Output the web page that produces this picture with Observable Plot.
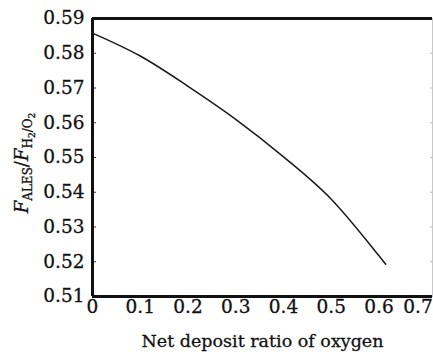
<!DOCTYPE html>
<html>
<head>
<meta charset="utf-8">
<script src="https://cdn.jsdelivr.net/npm/d3@7"></script>
<script src="https://cdn.jsdelivr.net/npm/@observablehq/plot@0.6"></script>
<style>
  body { margin: 0; background: #fff; }
  #chart svg { display: block; }
  #chart svg text { stroke: #111; stroke-width: 0.3px; }
</style>
</head>
<body>
<div id="chart"></div>
<script>
// Net deposit ratio of oxygen vs. force ratio F_ALES / F_H2/O2
const depositRatio = [0, 0.1, 0.2, 0.3, 0.4, 0.5, 0.6, 0.614];
const forceRatio = [0.5858, 0.5792, 0.5705, 0.5610, 0.5502, 0.5380, 0.5217, 0.5193];
const xTicks = [0, 0.1, 0.2, 0.3, 0.4, 0.5, 0.6];
const xLastTick = [0.7];
const yTicks = [0.51, 0.52, 0.53, 0.54, 0.55, 0.56, 0.57, 0.58, 0.59];
const xLabel = "Net deposit ratio of oxygen";

const rows = depositRatio.map((r, i) => ({ r, f: forceRatio[i] }));
const xMax = 0.712;

const serif = "'DejaVu Serif', 'Liberation Serif', serif";
const fmtX = d => d === 0 ? "0" : d.toFixed(1);

const plot = Plot.plot({
  width: 433,
  height: 356,
  marginLeft: 92,
  marginRight: 1,
  marginTop: 18,
  marginBottom: 60,
  style: { fontFamily: serif, fontSize: "18px", color: "#111", background: "#fff" },
  x: { domain: [0, xMax], label: null },
  y: { domain: [0.51, 0.59], label: null },
  marks: [
    // inward tick marks on the left and right edges
    Plot.axisY(yTicks, { anchor: "left", tickSize: 4, dx: 4, text: null, stroke: "#333" }),
    Plot.axisY(yTicks, { anchor: "right", tickSize: 3, dx: -3, text: null, stroke: "#bbb" }),
    // tick labels
    Plot.axisY(yTicks, { anchor: "left", tickSize: 0, tickPadding: 8, tickFormat: d => d.toFixed(2), fontFamily: serif, fontSize: 18.5 }),
    Plot.axisX(xTicks, { anchor: "bottom", tickSize: 0, tickPadding: 3, tickFormat: fmtX, fontFamily: serif, fontSize: 18.5 }),
    Plot.axisX(xLastTick, { anchor: "bottom", tickSize: 0, tickPadding: 3, tickFormat: fmtX, textAnchor: "end", dx: 6, fontFamily: serif, fontSize: 18.5 }),
    // frame
    Plot.ruleX([xMax], { stroke: "#c8c8c8", strokeWidth: 1 }),
    Plot.ruleY([0.59], { stroke: "#111", strokeWidth: 3 }),
    Plot.ruleY([0.51], { stroke: "#111", strokeWidth: 3 }),
    Plot.ruleX([0], { stroke: "#111", strokeWidth: 3 }),
    // curve
    Plot.line(rows, { x: "r", y: "f", curve: "monotone-x", stroke: "#1a1a1a", strokeWidth: 1.5 }),
    // x axis title
    Plot.text([xLabel], { frameAnchor: "bottom", dy: 50, fontFamily: serif, fontSize: 17.5, fill: "#111" })
  ]
});

document.getElementById("chart").appendChild(plot);

// y axis title with subscripts: F_ALES / F_{H2/O2}
const svg = d3.select(plot);
const yScale = plot.scale("y");
const midY = (yScale.range[0] + yScale.range[1]) / 2 + 6;
const t = svg.append("text")
  .attr("transform", `translate(28,${midY}) rotate(-90)`)
  .attr("text-anchor", "middle")
  .attr("font-family", serif)
  .attr("font-size", 18)
  .attr("fill", "#111");
t.append("tspan").attr("font-style", "italic").text("F");
t.append("tspan").attr("font-size", 12).attr("dy", 4).text("ALES");
t.append("tspan").attr("dy", -4).text("/");
t.append("tspan").attr("font-style", "italic").text("F");
t.append("tspan").attr("font-size", 12).attr("dy", 4).text("H");
t.append("tspan").attr("font-size", 9).attr("dy", 3).text("2");
t.append("tspan").attr("font-size", 12).attr("dy", -3).text("/O");
t.append("tspan").attr("font-size", 9).attr("dy", 3).text("2");
</script>
</body>
</html>
